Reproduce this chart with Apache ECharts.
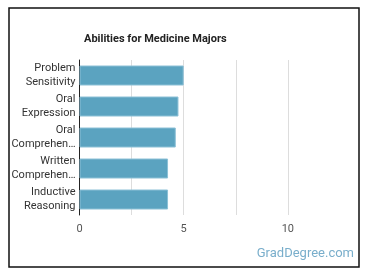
<!DOCTYPE html>
<html>
<head>
<meta charset="utf-8">
<script src="https://cdn.jsdelivr.net/npm/echarts@6/dist/echarts.min.js"></script>
</head>
<body style="margin:0;background:#fff">
<div id="main" style="width:370px;height:278px"></div>
<script>
// data
var categories = ['Problem\nSensitivity', 'Oral\nExpression', 'Oral\nComprehen…', 'Written\nComprehen…', 'Inductive\nReasoning'];
var values = [5.0, 4.75, 4.62, 4.25, 4.25];
var tickLabels = ['0', '5', '10'];

var chart = echarts.init(document.getElementById('main'));
chart.setOption({
    animation: false,
    title: {
        text: 'Abilities for Medicine Majors',
        left: 79, top: 29,
        textStyle: { fontFamily: 'Roboto', fontSize: 11, fontWeight: 'bold', color: '#222' }
    },
    graphic: [
        { type: 'rect', shape: { x: 9, y: 8, width: 350, height: 259 },
          style: { fill: 'none', stroke: '#111', lineWidth: 1.5 } },
        { type: 'text', right: 16, top: 247,
          style: { text: 'GradDegree.com', fill: '#79aecb', font: '13px Roboto' } }
    ],
    grid: { left: 79.5, right: 40.5, top: 60, height: 155 },
    xAxis: {
        type: 'value', min: 0, max: 12, interval: 2.5,
        axisLine: { show: false }, axisTick: { show: false },
        splitLine: { showMaxLine: false, lineStyle: { color: '#ddd' } },
        axisLabel: {
            color: '#555', fontFamily: 'Roboto', fontSize: 11, margin: 9,
            showMaxLabel: false,
            formatter: function (v) { return tickLabels.indexOf(String(v)) >= 0 ? String(v) : ''; }
        }
    },
    yAxis: {
        type: 'category', inverse: true, data: categories,
        axisLine: { lineStyle: { color: '#222' } }, axisTick: { show: false },
        axisLabel: { color: '#333', fontFamily: 'Roboto', fontSize: 11, lineHeight: 14, margin: 4 }
    },
    series: [{
        type: 'bar', data: values, barWidth: 20,
        itemStyle: { color: '#5ba3c0', borderColor: '#8cc0d6', borderWidth: 1 }
    }]
});
</script>
</body>
</html>
